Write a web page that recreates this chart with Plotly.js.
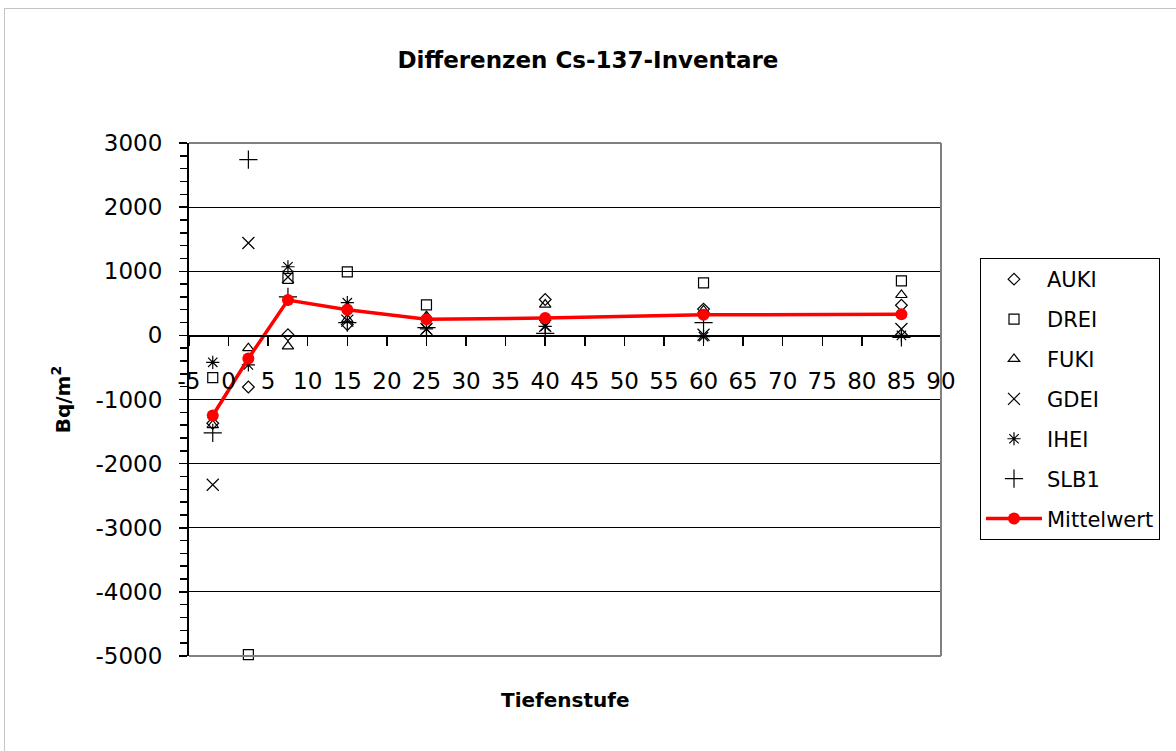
<!DOCTYPE html>
<html>
<head>
<meta charset="utf-8">
<script src="https://cdn.plot.ly/plotly-3.0.1.min.js"></script>
<style>
  html, body { margin: 0; padding: 0; background: #fff; overflow: hidden; }
  #chart { width: 1176px; height: 751px; position: absolute; left: 0; top: 0; }
  #frame { position: absolute; left: 4px; top: 8px; width: 1300px; height: 900px;
           border: 1px solid #c4c4c4; pointer-events: none; }
</style>
</head>
<body>
<div id="chart"></div>
<div id="frame"></div>
<script>
// Depth classes (Tiefenstufe, cm)
const depths = [-2, 2.5, 7.5, 15, 25, 40, 60, 85];

// Differences of Cs-137 inventories (Bq/m2) per site
const AUKI = [-1370, -805, 10, 170, 260, 560, 410, 470];
const DREI = [-660, -4980, 890, 990, 475, null, 820, 850];
const FUKI = [-1400, -200, -170, 250, 300, 480, 390, 630];
const GDEI = [-2330, 1440, 910, 230, 100, 150, 10, 100];
const IHEI = [-420, -460, 1070, 510, 100, 140, -20, 0];
const SLB1 = [-1520, 2740, 600, 200, 120, 30, 200, -30];
const Mittelwert = [-1250, -360, 550, 400, 250, 270, 320, 330];

// Tick labels (plain hyphen minus as in the original)
const xTickVals = [-5, 0, 5, 10, 15, 20, 25, 30, 35, 40, 45, 50, 55, 60, 65, 70, 75, 80, 85, 90];
const xTickText = ['-5', '0', '5', '10', '15', '20', '25', '30', '35', '40', '45', '50', '55', '60', '65', '70', '75', '80', '85', '90'];
const yTickVals = [3000, 2000, 1000, 0, -1000, -2000, -3000, -4000, -5000];
const yTickText = ['3000', '2000', '1000', '0', '-1000', '-2000', '-3000', '-4000', '-5000'];

const seriesNames = ['AUKI', 'DREI', 'FUKI', 'GDEI', 'IHEI', 'SLB1'];
const seriesValues = [AUKI, DREI, FUKI, GDEI, IHEI, SLB1];
const seriesSymbols = ['diamond-open', 'square-open', 'triangle-up-open', 'x-thin-open', 'asterisk-open', 'cross-thin-open'];
const seriesSizes = [9, 10, 10, 12, 11, 13];

const FONT = 'DejaVu Sans, Arial, Liberation Sans, sans-serif';

const traces = seriesNames.map((n, i) => ({
  type: 'scatter',
  mode: 'markers',
  name: n,
  legendgroup: n,
  x: depths,
  y: seriesValues[i],
  marker: {
    symbol: seriesSymbols[i],
    size: seriesSizes[i],
    color: 'black',
    line: { color: 'black', width: 1.2 }
  },
  cliponaxis: false
}));

traces.push({
  type: 'scatter',
  mode: 'lines+markers',
  name: 'Mittelwert',
  legendgroup: 'Mittelwert',
  x: depths,
  y: Mittelwert,
  line: { color: '#ff0000', width: 3.5 },
  marker: { symbol: 'circle', size: 12, color: '#ff0000' },
  cliponaxis: false
});

const layout = {
  width: 1176,
  height: 751,
  margin: { l: 189, r: 235, t: 143, b: 95 },
  paper_bgcolor: 'rgba(0,0,0,0)',
  plot_bgcolor: 'white',
  font: { family: FONT, color: 'black', size: 21 },
  showlegend: true,
  title: {
    text: 'Differenzen Cs-137-Inventare',
    font: { family: FONT, size: 23, color: 'black', weight: 'bold' },
    x: 0.5, xref: 'container', xanchor: 'center',
    y: 1 - 60 / 751, yref: 'container', yanchor: 'middle'
  },
  xaxis: {
    range: [-5, 90],
    tickmode: 'array', tickvals: xTickVals, ticktext: xTickText,
    tickangle: 0,
    anchor: 'free',
    position: 0.625,
    showline: true, linecolor: 'black', linewidth: 1.5,
    ticks: 'outside', ticklen: 9, tickwidth: 1.5, tickcolor: 'black',
    ticklabelstandoff: 16,
    tickfont: { family: FONT, size: 23, color: 'black' },
    showgrid: false, zeroline: false,
    fixedrange: true
  },
  yaxis: {
    range: [-5000, 3000],
    tickmode: 'array', tickvals: yTickVals, ticktext: yTickText,
    showline: true, linecolor: 'black', linewidth: 2,
    ticks: 'outside', ticklen: 8, tickwidth: 1.5, tickcolor: 'black',
    minor: { dtick: 200, tick0: 0, ticks: 'outside', ticklen: 7, tickwidth: 1.5, tickcolor: 'black', showgrid: false },
    ticklabelstandoff: 12,
    tickfont: { family: FONT, size: 23, color: 'black' },
    showgrid: true, gridcolor: 'black', gridwidth: 1,
    zeroline: false,
    title: {
      text: 'Bq/m<sup>2</sup>',
      font: { family: FONT, size: 20, color: 'black', weight: 'bold' },
      standoff: 20
    },
    fixedrange: true
  },
  legend: {
    x: (980 - 189) / 752, xanchor: 'left',
    y: (656 - 258) / 513, yanchor: 'top',
    bordercolor: 'black', borderwidth: 1,
    bgcolor: 'white',
    font: { family: FONT, size: 21, color: 'black' },
    traceorder: 'grouped',
    tracegroupgap: 9.6,
    itemwidth: 56
  },
  shapes: [
    { type: 'line', xref: 'paper', yref: 'paper', x0: 0, x1: 1, y0: 1, y1: 1, line: { color: '#808080', width: 2 }, layer: 'above' },
    { type: 'line', xref: 'paper', yref: 'paper', x0: 1, x1: 1, y0: 0, y1: 1, line: { color: '#808080', width: 2 }, layer: 'above' },
    { type: 'line', xref: 'paper', yref: 'paper', x0: 0, x1: 1, y0: 0, y1: 0, line: { color: '#808080', width: 2 }, layer: 'above' }
  ],
  annotations: [
    {
      text: 'Tiefenstufe', showarrow: false,
      xref: 'paper', yref: 'paper', x: 0.5, y: (656 - 700) / 513,
      xanchor: 'center', yanchor: 'middle',
      font: { family: FONT, size: 20, color: 'black', weight: 'bold' }
    }
  ]
};

Plotly.newPlot('chart', traces, layout, { staticPlot: true, displayModeBar: false });
</script>
</body>
</html>
